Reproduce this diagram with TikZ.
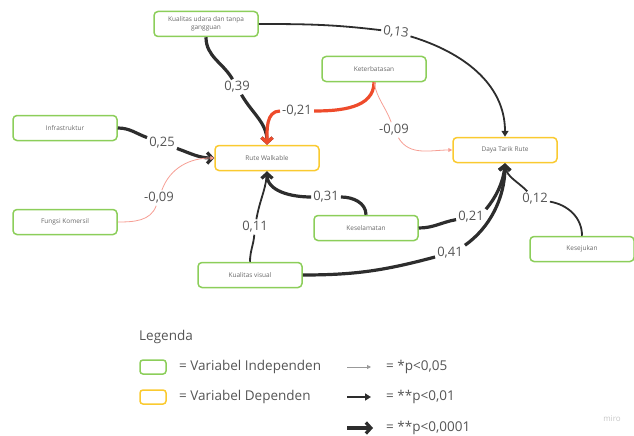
\documentclass[tikz,border=0pt]{standalone}
\usepackage{fontspec}
\setmainfont{Open Sans}
\usepackage{tikz}
\usetikzlibrary{arrows.meta}
\definecolor{mgreen}{RGB}{140,206,90}
\definecolor{myellow}{RGB}{250,202,48}
\definecolor{mred}{RGB}{238,75,43}
\definecolor{msalmon}{RGB}{246,158,148}
\definecolor{mline}{RGB}{45,45,45}
\definecolor{mtext}{RGB}{85,85,85}
\definecolor{boxtext}{RGB}{105,105,105}
\tikzset{
  vbox/.style   = {rectangle, draw, rounded corners=4pt, line width=1.5pt,
                   fill=white, align=center, text=boxtext, inner sep=2pt,
                   font=\fontsize{6.5}{8}\selectfont,
                   minimum width=104pt, minimum height=25pt},
  indep/.style  = {vbox, draw=mgreen},
  dep/.style    = {vbox, draw=myellow},
  legbox/.style = {minimum width=26pt, minimum height=14pt, rounded corners=3pt},
  coef/.style   = {font=\fontsize{13}{15}\selectfont, text=mtext, inner sep=2pt},
  legtxt/.style = {font=\fontsize{13.5}{15}\selectfont, text=mtext, inner sep=0pt},
  pstrong/.style = {line width=3.2pt, draw=mline},
  pmid/.style    = {line width=1.8pt, draw=mline},
  pweak/.style   = {line width=0.8pt, draw=msalmon},
  tipstrong/.style = {-{Straight Barb[length=5pt,width=11pt]}},
  tipmid/.style    = {-{Triangle[length=6pt,width=7pt]}},
  tipweak/.style   = {-{Triangle[length=4pt,width=4pt]}},
}

\begin{document}
\begin{tikzpicture}[x=1pt, y=1pt]
  \useasboundingbox (0,0) rectangle (634,-436);

  % Variables
  \node[indep] (kud) at (206,-24) {Kualitas udara dan tanpa\\gangguan};
  \node[indep] (ket) at (374,-69)  {Keterbatasan};
  \node[indep] (inf) at (65,-128)  {Infrastruktur};
  \node[dep]   (rw)  at (267,-158) {Rute Walkable};
  \node[dep]   (dtr) at (505,-150) {Daya Tarik Rute};
  \node[indep] (fk)  at (65,-222)  {Fungsi Komersil};
  \node[indep] (kes) at (366,-228) {Keselamatan};
  \node[indep] (ksj) at (582,-249) {Kesejukan};
  \node[indep] (kv)  at (250,-275) {Kualitas visual};

  % Coefficients
  \node[coef] (c39)  at (237,-87)  {0,39};
  \node[coef] (c21a) at (297,-111) {-0,21};
  \node[coef] (c09b) at (394,-130) {-0,09};
  \node[coef, rotate=-8] (c13) at (396,-32) {0,13};
  \node[coef] (c25)  at (162,-143) {0,25};
  \node[coef] (c09a) at (159,-198) {-0,09};
  \node[coef] (c31)  at (326,-197) {0,31};
  \node[coef] (c11)  at (255,-227) {0,11};
  \node[coef] (c21b) at (471,-217) {0,21};
  \node[coef] (c41)  at (450,-253) {0,41};
  \node[coef] (c12)  at (535,-199) {0,12};

  % Paths to Rute Walkable
  \draw[pstrong] (kud.south) to[out=-90,in=120] (c39);
  \draw[pstrong,tipstrong] (c39) to[out=-60,in=90] (rw.north);
  \draw[pstrong,draw=mred] (ket.south) to[out=-90,in=0] (c21a);
  \draw[pstrong,draw=mred,tipstrong] (c21a) to[out=180,in=90] (rw.north);
  \draw[pstrong] (inf.east) to[out=0,in=160] (c25);
  \draw[pstrong,tipstrong] (c25) to[out=-20,in=180] (rw.west);
  \draw[pweak] (fk.east) to[out=0,in=-110] (c09a);
  \draw[pweak,tipweak] (c09a) to[out=70,in=180] (rw.west);
  \draw[pstrong] (kes.north) to[out=90,in=0] (c31);
  \draw[pstrong,tipstrong] (c31) to[out=180,in=-90] (rw.south);
  \draw[pmid] (kv.north) to[out=90,in=-95] (c11);
  \draw[pmid,tipmid] (c11) to[out=80,in=-95] (rw.south);

  % Paths to Daya Tarik Rute
  \draw[pmid] (kud.east) to[out=0,in=175] (c13);
  \draw[pmid,tipmid] (c13) to[out=-15,in=90] (dtr.north);
  \draw[pweak] (ket.south) to[out=-80,in=110] (c09b);
  \draw[pweak,tipweak] (c09b) to[out=-60,in=180] (dtr.west);
  \draw[pstrong] (kes.east) to[out=0,in=190] (c21b);
  \draw[pstrong,tipstrong] (c21b.north east)
    .. controls +(50:15) and +(-95:20) .. (dtr.south);
  \draw[pstrong] (kv.east) to[out=0,in=195] (c41);
  \draw[pstrong,tipstrong] (c41.north east)
    .. controls +(35:30) and +(-90:35) .. (dtr.south);
  \draw[pmid] (ksj.north) to[out=90,in=-10] (c12);
  \draw[pmid,tipmid] (c12) to[out=135,in=-80] (dtr.south);

  % Legend
  \node[font=\fontsize{13.5}{15}\selectfont, text=mtext, anchor=west, inner sep=0pt]
    (leg) at (139,-337) {Legenda};
  \node[indep, legbox] (legind) at (153,-367) {};
  \node[legtxt, anchor=west] (legindt) at (179,-367) {= Variabel Independen};
  \node[dep, legbox] (legdep) at (153,-397) {};
  \node[legtxt, anchor=west] (legdept) at (179,-397) {= Variabel Dependen};

  \coordinate (wa) at (347,-367); \coordinate (wb) at (371,-367);
  \coordinate (ma) at (347,-397); \coordinate (mb) at (371,-397);
  \coordinate (sa) at (347,-428); \coordinate (sb) at (373,-428);
  \draw[line width=0.8pt, draw=black!40, tipweak] (wa) -- (wb);
  \draw[pmid, tipmid] (ma) -- (mb);
  \draw[pstrong, tipstrong] (sa) -- (sb);
  \node[legtxt, anchor=west] (pw) at (386,-367) {= *p<0,05};
  \node[legtxt, anchor=west] (pm) at (386,-397) {= **p<0,01};
  \node[legtxt, anchor=west] (ps) at (386,-428) {= **p<0,0001};

  \node[font=\fontsize{8}{9}\selectfont, text=black!22] (miro) at (612,-419) {miro};
\end{tikzpicture}
\end{document}
